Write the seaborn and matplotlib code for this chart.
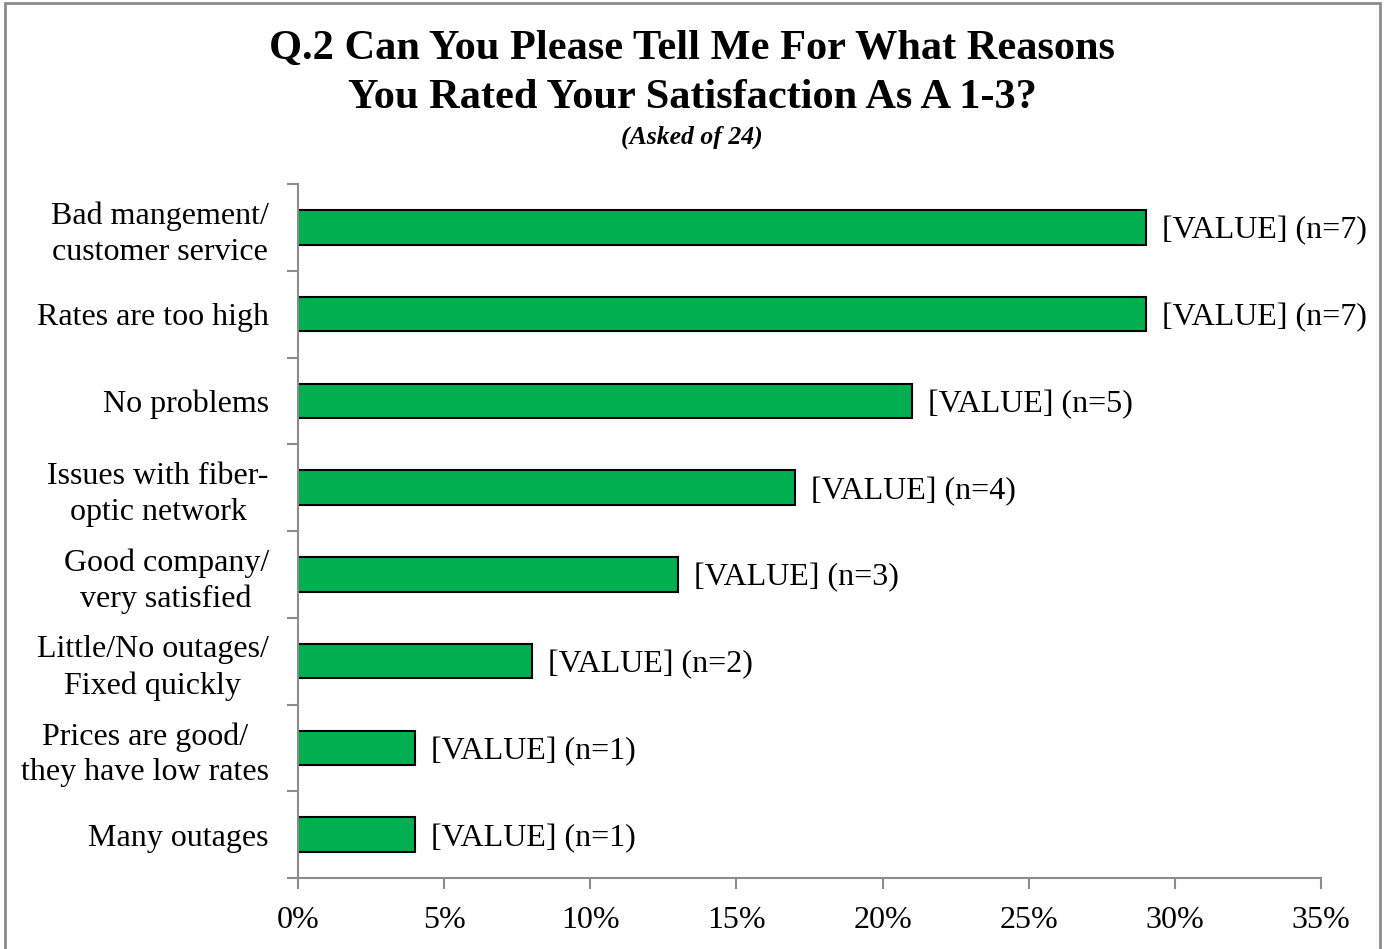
import matplotlib.pyplot as plt
import matplotlib.patches as mpatches
from matplotlib.ticker import FixedLocator, PercentFormatter
import pandas as pd
import seaborn as sns

reasons = ["Bad mangement/\ncustomer service", "Rates are too high", "No problems",
           "Issues with fiber-\noptic network", "Good company/\nvery satisfied",
           "Little/No outages/\nFixed quickly", "Prices are good/\nthey have low rates",
           "Many outages"]
pct = [29, 29, 21, 17, 13, 8, 4, 4]
counts = [7, 7, 5, 4, 3, 2, 1, 1]

df = pd.DataFrame({'reason': reasons, 'pct': pct, 'n': counts})

sns.set_style('white')
plt.rcParams['font.family'] = ['Liberation Serif', 'DejaVu Serif']
plt.rcParams['text.color'] = 'black'
plt.rcParams['xtick.color'] = 'black'
plt.rcParams['ytick.color'] = 'black'

fig = plt.figure(figsize=(13.9, 9.49), dpi=100)
ax = fig.add_axes([298/1390, 1-878/949, (1321-298)/1390, (878-184)/949])

sns.barplot(data=df, x='pct', y='reason', orient='h', color='#00B050',
            edgecolor='black', linewidth=1.5, width=0.4, saturation=1, ax=ax)

for i, row in df.iterrows():
    ax.text(row['pct'] + 0.55, i, f"[VALUE] (n={row['n']})", va='center_baseline',
            ha='left', fontsize=23)

ax.set_xlim(0, 35)
ax.set_ylim(len(reasons) - 0.5, -0.5)
ax.set_xticks(range(0, 36, 5))
ax.xaxis.set_major_formatter(PercentFormatter(decimals=0))
ax.set_xlabel('')
ax.set_ylabel('')

# category ticks sit between the bars
ax.yaxis.set_minor_locator(FixedLocator([i - 0.5 for i in range(len(reasons) + 1)]))
ax.tick_params(axis='y', which='major', length=0, pad=21, labelsize=23)
ax.tick_params(axis='y', which='minor', length=8, width=1.5, color='#8c8c8c', left=True)
ax.tick_params(axis='x', which='major', length=8, width=1.5, color='#8c8c8c',
               bottom=True, pad=12, labelsize=23)
for t in ax.get_yticklabels():
    t.set_horizontalalignment('right')
    t.set_multialignment('center')
    t.set_linespacing(1.3)

for s in ['top', 'right']:
    ax.spines[s].set_visible(False)
for s in ['left', 'bottom']:
    ax.spines[s].set_color('#8c8c8c')
    ax.spines[s].set_linewidth(1.5)

fig.text(0.498, 1-49/949, "Q.2 Can You Please Tell Me For What Reasons",
         ha='center', va='center', fontsize=30.5, fontweight='bold')
fig.text(0.498, 1-98/949, "You Rated Your Satisfaction As A 1-3?",
         ha='center', va='center', fontsize=30.5, fontweight='bold')
fig.text(0.498, 1-137/949, "(Asked of 24)", ha='center', va='center',
         fontsize=18.5, fontweight='bold', style='italic')

fig.patches.append(mpatches.Rectangle((5/1390, -0.05), 1375/1390, 1.05 - 3/949,
                                      transform=fig.transFigure, fill=False,
                                      edgecolor='#8c8c8c', linewidth=2))

plt.savefig('out.png', dpi=100)
